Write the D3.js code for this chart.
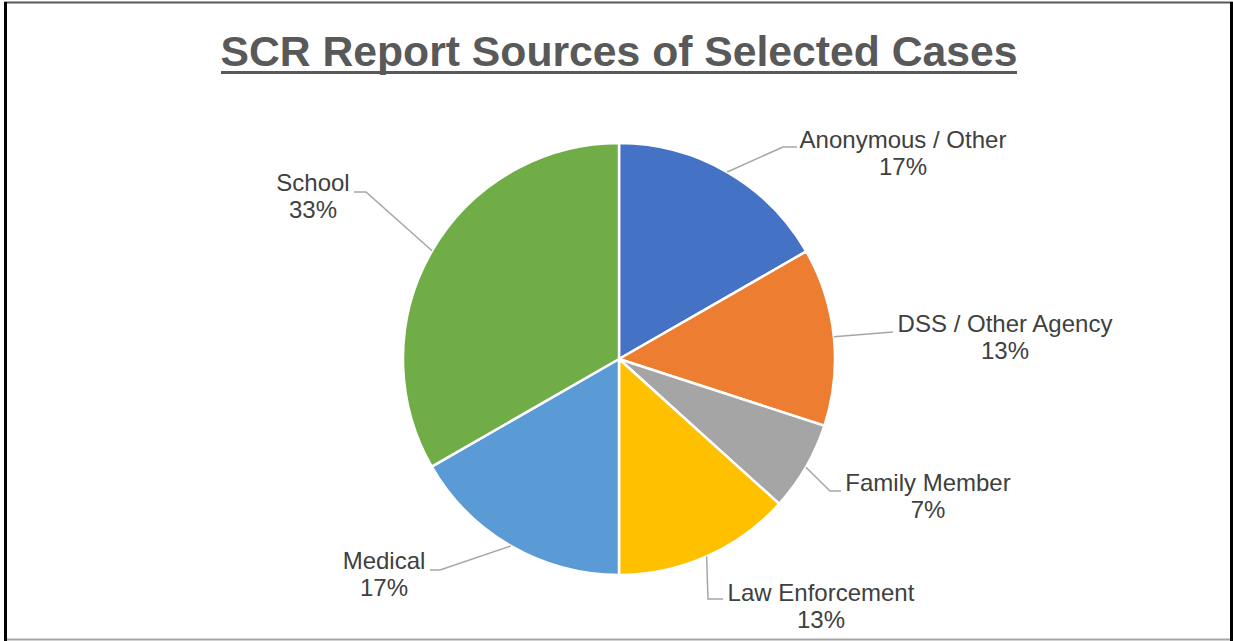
<!DOCTYPE html>
<html>
<head>
<meta charset="utf-8">
<script src="https://cdn.jsdelivr.net/npm/d3@7"></script>
<style>
  html, body { margin: 0; padding: 0; background: #fff; }
  svg { display: block; }
</style>
</head>
<body>
<div id="chart"></div>
<script>
const W = 1233, H = 641;

// data (shares of 30 cases)
const categories = ['Anonymous / Other', 'DSS / Other Agency', 'Family Member', 'Law Enforcement', 'Medical', 'School'];
const shares = [16.7, 13.3, 6.7, 13.3, 16.7, 33.3];
const pctLabels = ['17%', '13%', '7%', '13%', '17%', '33%'];

const palette = d3.scaleOrdinal()
  .domain(categories)
  .range(['#4472C4', '#ED7D31', '#A5A5A5', '#FFC000', '#5B9BD5', '#70AD47']);

// where excel put each label (elbow of the leader, end of leader, text centre / first baseline)
const labelLayout = {
  'Anonymous / Other':  { elbow: [783, 147], end: [797, 147], tx: 903,  ty: 148 },
  'DSS / Other Agency': { elbow: null,       end: [893, 332], tx: 1005, ty: 332 },
  'Family Member':      { elbow: [830, 491], end: [841, 491], tx: 928,  ty: 491 },
  'Law Enforcement':    { elbow: [708, 599], end: [723, 599], tx: 821,  ty: 601 },
  'Medical':            { elbow: [440, 570], end: [430, 570], tx: 384,  ty: 569 },
  'School':             { elbow: [366, 192], end: [354, 192], tx: 313,  ty: 191 }
};

const cx = 619, cy = 359, R = 216;
const lineGap = 27;

const svg = d3.select('#chart').append('svg')
  .attr('width', W)
  .attr('height', H)
  .style('font-family', 'Liberation Sans, Arial, sans-serif');

// frame
svg.append('line').attr('x1', 4).attr('x2', W).attr('y1', 2.5).attr('y2', 2.5)
  .style('stroke', '#595959').style('stroke-width', 2);
svg.append('line').attr('x1', 4).attr('x2', W).attr('y1', 639.5).attr('y2', 639.5)
  .style('stroke', '#a6a6a6').style('stroke-width', 2);
svg.append('rect').attr('x', 4).attr('y', 2).attr('width', 3).attr('height', H - 2).style('fill', '#000');
svg.append('rect').attr('x', 1230).attr('y', 2).attr('width', 3).attr('height', H - 2).style('fill', '#000');

// title
svg.append('text')
  .attr('x', cx)
  .attr('y', 66)
  .attr('text-anchor', 'middle')
  .style('font-size', '42.7px')
  .style('font-weight', 'bold')
  .style('fill', '#595959')
  .text('SCR Report Sources of Selected Cases');
svg.append('rect')
  .attr('x', 221).attr('y', 71).attr('width', 796).attr('height', 3)
  .style('fill', '#595959');

const pie = d3.pie().sort(null).value(d => d.v);
const arcs = pie(categories.map((c, i) => ({ name: c, v: shares[i], pct: pctLabels[i] })));

const arc = d3.arc().innerRadius(0).outerRadius(R);
const edge = d3.arc().innerRadius(R).outerRadius(R);

const g = svg.append('g').attr('transform', `translate(${cx},${cy})`);

g.selectAll('path.slice')
  .data(arcs)
  .join('path')
  .attr('class', 'slice')
  .attr('d', arc)
  .style('fill', d => palette(d.data.name))
  .style('stroke', '#fff')
  .style('stroke-width', 2.5)
  .style('stroke-linejoin', 'round');

// leader lines
svg.selectAll('polyline.leader')
  .data(arcs)
  .join('polyline')
  .attr('class', 'leader')
  .attr('points', d => {
    const L = labelLayout[d.data.name];
    const s = edge.centroid(d);
    const pts = [[s[0] + cx, s[1] + cy]];
    if (L.elbow) pts.push(L.elbow);
    pts.push(L.end);
    return pts.map(p => p.join(',')).join(' ');
  })
  .style('fill', 'none')
  .style('stroke', '#a6a6a6')
  .style('stroke-width', 1.5);

// labels
const lab = svg.selectAll('text.lab')
  .data(arcs)
  .join('text')
  .attr('class', 'lab')
  .attr('text-anchor', 'middle')
  .style('font-size', '24px')
  .style('fill', '#404040');

lab.append('tspan')
  .attr('x', d => labelLayout[d.data.name].tx)
  .attr('y', d => labelLayout[d.data.name].ty)
  .text(d => d.data.name);
lab.append('tspan')
  .attr('x', d => labelLayout[d.data.name].tx)
  .attr('y', d => labelLayout[d.data.name].ty + lineGap)
  .text(d => d.data.pct);
</script>
</body>
</html>
